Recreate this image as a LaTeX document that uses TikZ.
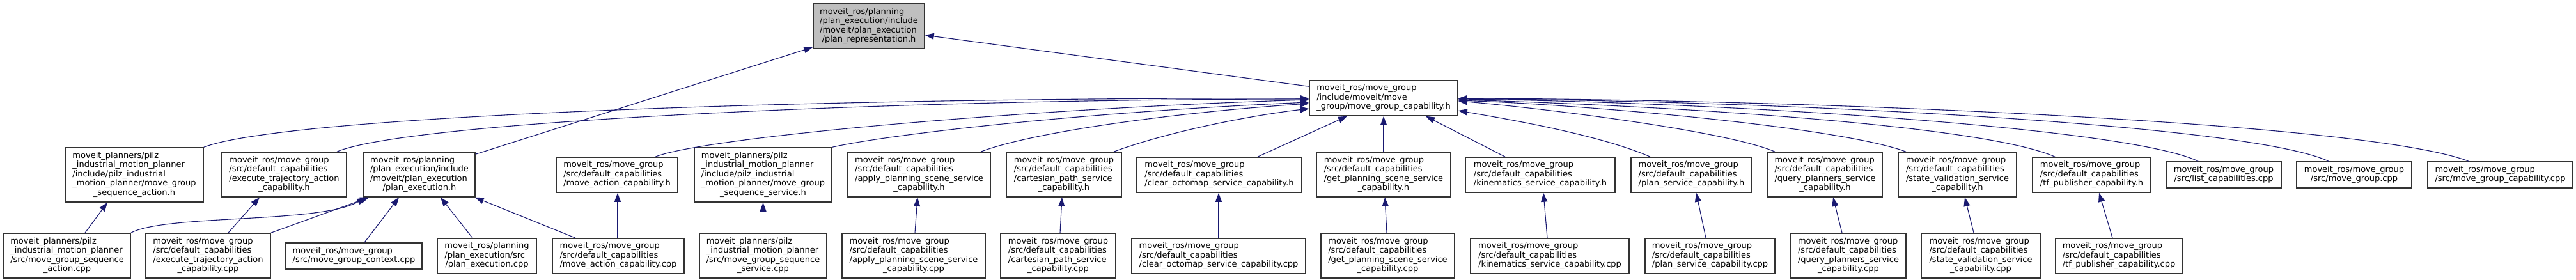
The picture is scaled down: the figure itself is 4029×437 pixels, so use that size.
\documentclass[tikz,border=0pt]{standalone}
\usepackage{fontspec}
\setmainfont{DejaVu Sans}
\usetikzlibrary{arrows.meta}
\definecolor{edgeblue}{HTML}{191970}
\definecolor{boxline}{HTML}{333333}
\definecolor{topfill}{HTML}{BFBFBF}
\newcommand\dlab[2]{\begin{tabular}{@{}l@{}}#1\\\multicolumn{1}{@{}c@{}}{#2}\end{tabular}}
\begin{document}
\begin{tikzpicture}[x=1pt,y=-1pt,
  box/.style={draw=boxline,line width=1.5pt,fill=white,rectangle,inner sep=0pt,align=center,
    font=\fontsize{13}{14.5}\selectfont},
  dep/.style={draw=edgeblue,line width=1.1pt,-{Triangle[length=14pt,width=10pt]}}]
\useasboundingbox (0,0) rectangle (4029,437);
% top
\node[box,fill=topfill,minimum width=174pt,minimum height=70pt] (T) at (1359,41)
 {\dlab{moveit\_ros/planning\\/plan\_execution/include\\/moveit/plan\_execution}{/plan\_representation.h}};
\node[box,minimum width=232pt,minimum height=55pt] (M) at (2164,153.5)
 {\dlab{moveit\_ros/move\_group\\/include/moveit/move}{\_group/move\_group\_capability.h}};
% middle row
\node[box,minimum width=216pt,minimum height=85pt] (A1) at (210,273.5)
 {\dlab{moveit\_planners/pilz\\\_industrial\_motion\_planner\\/include/pilz\_industrial\\\_motion\_planner/move\_group}{\_sequence\_action.h}};
\node[box,minimum width=195pt,minimum height=70pt] (A2) at (444.5,273)
 {\dlab{moveit\_ros/move\_group\\/src/default\_capabilities\\/execute\_trajectory\_action}{\_capability.h}};
\node[box,minimum width=174pt,minimum height=70pt] (A3) at (656,273)
 {\dlab{moveit\_ros/planning\\/plan\_execution/include\\/moveit/plan\_execution}{/plan\_execution.h}};
\node[box,minimum width=190pt,minimum height=55pt] (A4) at (965,273.5)
 {\dlab{moveit\_ros/move\_group\\/src/default\_capabilities}{/move\_action\_capability.h}};
\node[box,minimum width=215pt,minimum height=85pt] (A5) at (1193.5,273.5)
 {\dlab{moveit\_planners/pilz\\\_industrial\_motion\_planner\\/include/pilz\_industrial\\\_motion\_planner/move\_group}{\_sequence\_service.h}};
\node[box,minimum width=223pt,minimum height=70pt] (A6) at (1437.5,273)
 {\dlab{moveit\_ros/move\_group\\/src/default\_capabilities\\/apply\_planning\_scene\_service}{\_capability.h}};
\node[box,minimum width=180pt,minimum height=70pt] (A7) at (1664,273)
 {\dlab{moveit\_ros/move\_group\\/src/default\_capabilities\\/cartesian\_path\_service}{\_capability.h}};
\node[box,minimum width=258pt,minimum height=55pt] (A8) at (1907,273.5)
 {\dlab{moveit\_ros/move\_group\\/src/default\_capabilities}{/clear\_octomap\_service\_capability.h}};
\node[box,minimum width=210pt,minimum height=70pt] (A9) at (2164,273)
 {\dlab{moveit\_ros/move\_group\\/src/default\_capabilities\\/get\_planning\_scene\_service}{\_capability.h}};
\node[box,minimum width=234pt,minimum height=55pt] (A10) at (2409,273.5)
 {\dlab{moveit\_ros/move\_group\\/src/default\_capabilities}{/kinematics\_service\_capability.h}};
\node[box,minimum width=189pt,minimum height=55pt] (A11) at (2645.5,273.5)
 {\dlab{moveit\_ros/move\_group\\/src/default\_capabilities}{/plan\_service\_capability.h}};
\node[box,minimum width=179pt,minimum height=70pt] (A12) at (2854.5,273)
 {\dlab{moveit\_ros/move\_group\\/src/default\_capabilities\\/query\_planners\_service}{\_capability.h}};
\node[box,minimum width=185pt,minimum height=70pt] (A13) at (3061.5,273)
 {\dlab{moveit\_ros/move\_group\\/src/default\_capabilities\\/state\_validation\_service}{\_capability.h}};
\node[box,minimum width=185pt,minimum height=55pt] (A14) at (3271.5,273.5)
 {\dlab{moveit\_ros/move\_group\\/src/default\_capabilities}{/tf\_publisher\_capability.h}};
\node[box,minimum width=180pt,minimum height=41pt] (A15) at (3478,273.5)
 {\dlab{moveit\_ros/move\_group}{/src/list\_capabilities.cpp}};
\node[box,minimum width=180pt,minimum height=41pt] (A16) at (3682,273.5)
 {\dlab{moveit\_ros/move\_group}{/src/move\_group.cpp}};
\node[box,minimum width=227pt,minimum height=41pt] (A17) at (3910.5,273.5)
 {\dlab{moveit\_ros/move\_group}{/src/move\_group\_capability.cpp}};
% bottom row
\node[box,minimum width=198pt,minimum height=70pt] (B1) at (105,400)
 {\dlab{moveit\_planners/pilz\\\_industrial\_motion\_planner\\/src/move\_group\_sequence}{\_action.cpp}};
\node[box,minimum width=195pt,minimum height=70pt] (B2) at (325.5,400)
 {\dlab{moveit\_ros/move\_group\\/src/default\_capabilities\\/execute\_trajectory\_action}{\_capability.cpp}};
\node[box,minimum width=213pt,minimum height=41pt] (B3) at (553.5,400.5)
 {\dlab{moveit\_ros/move\_group}{/src/move\_group\_context.cpp}};
\node[box,minimum width=155pt,minimum height=55pt] (B4) at (761.5,400.5)
 {\dlab{moveit\_ros/planning\\/plan\_execution/src}{/plan\_execution.cpp}};
\node[box,minimum width=206pt,minimum height=55pt] (B5) at (967,400.5)
 {\dlab{moveit\_ros/move\_group\\/src/default\_capabilities}{/move\_action\_capability.cpp}};
\node[box,minimum width=199pt,minimum height=70pt] (B6) at (1193.5,400)
 {\dlab{moveit\_planners/pilz\\\_industrial\_motion\_planner\\/src/move\_group\_sequence}{\_service.cpp}};
\node[box,minimum width=224pt,minimum height=70pt] (B7) at (1429,400)
 {\dlab{moveit\_ros/move\_group\\/src/default\_capabilities\\/apply\_planning\_scene\_service}{\_capability.cpp}};
\node[box,minimum width=180pt,minimum height=70pt] (B8) at (1655,400)
 {\dlab{moveit\_ros/move\_group\\/src/default\_capabilities\\/cartesian\_path\_service}{\_capability.cpp}};
\node[box,minimum width=272pt,minimum height=55pt] (B9) at (1906,400.5)
 {\dlab{moveit\_ros/move\_group\\/src/default\_capabilities}{/clear\_octomap\_service\_capability.cpp}};
\node[box,minimum width=209pt,minimum height=70pt] (B10) at (2170.5,400)
 {\dlab{moveit\_ros/move\_group\\/src/default\_capabilities\\/get\_planning\_scene\_service}{\_capability.cpp}};
\node[box,minimum width=248pt,minimum height=55pt] (B11) at (2424,400.5)
 {\dlab{moveit\_ros/move\_group\\/src/default\_capabilities}{/kinematics\_service\_capability.cpp}};
\node[box,minimum width=203pt,minimum height=55pt] (B12) at (2674.5,400.5)
 {\dlab{moveit\_ros/move\_group\\/src/default\_capabilities}{/plan\_service\_capability.cpp}};
\node[box,minimum width=180pt,minimum height=70pt] (B13) at (2891,400)
 {\dlab{moveit\_ros/move\_group\\/src/default\_capabilities\\/query\_planners\_service}{\_capability.cpp}};
\node[box,minimum width=186pt,minimum height=70pt] (B14) at (3098,400)
 {\dlab{moveit\_ros/move\_group\\/src/default\_capabilities\\/state\_validation\_service}{\_capability.cpp}};
\node[box,minimum width=198pt,minimum height=55pt] (B15) at (3314,400.5)
 {\dlab{moveit\_ros/move\_group\\/src/default\_capabilities}{/tf\_publisher\_capability.cpp}};
% edges to top node
\draw[dep] ([yshift=-10pt]M.north west) -- ([yshift=-14pt]T.east);
\draw[dep] ([yshift=-4pt]A3.north east) -- ([yshift=3pt]T.south west);
% edges to M, left side
\draw[dep] (A1.north east) .. controls (450,180) and (1300,152) .. ([yshift=-0.5pt]M.west);
\draw[dep] ([xshift=82.5pt]A2.north) .. controls (640,190) and (1400,155) .. ([yshift=-1.5pt]M.west);
\draw[dep] ([xshift=60pt]A4.north) .. controls (1100,215) and (1600,170) .. ([yshift=-2.5pt]M.west);
\draw[dep] (A5.north east) .. controls (1390,210) and (1700,175) .. ([yshift=-6.5pt]M.west);
\draw[dep] ([xshift=96.5pt]A6.north) .. controls (1620,205) and (1850,175) .. ([yshift=-8.5pt]M.west);
\draw[dep] ([xshift=78pt]A7.north) .. controls (1830,205) and (1960,180) .. ([yshift=-16.5pt]M.west);
% bottom of M
\draw[dep] ([xshift=60pt]A8.north) -- ([xshift=-57pt]M.south);
\draw[dep] (A9.north) -- (M.south);
\draw[dep] ([xshift=-55pt]A10.north) -- ([xshift=66pt]M.south);
% right side
\draw[dep] ([xshift=-64.5pt]A11.north) .. controls (2500,210) and (2350,185) .. ([yshift=-19.5pt]M.east);
\draw[dep] ([xshift=-78.5pt]A12.north) .. controls (2700,205) and (2420,170) .. ([yshift=-4.5pt]M.east);
\draw[dep] ([xshift=-80.5pt]A13.north) .. controls (2880,200) and (2500,165) .. ([yshift=-3.5pt]M.east);
\draw[dep] ([xshift=-57.5pt]A14.north) .. controls (3100,195) and (2600,165) .. ([yshift=-2.5pt]M.east);
\draw[dep] ([xshift=-40pt]A15.north) .. controls (3330,200) and (2700,160) .. ([yshift=-1.5pt]M.east);
\draw[dep] ([xshift=-40pt]A16.north) .. controls (3520,195) and (2800,158) .. ([yshift=-1pt]M.east);
\draw[dep] ([xshift=-49.5pt]A17.north) .. controls (3700,190) and (2800,155) .. ([yshift=-0.5pt]M.east);
% bottom row edges
\draw[dep] ([xshift=28pt]B1.north) -- ([xshift=-42pt]A1.south);
\draw[dep] (B1.north east) .. controls (260,335) and (500,350) .. ([xshift=4pt]A3.south west);
\draw[dep] ([xshift=31.5pt]B2.north) -- ([xshift=-38.5pt]A2.south);
\draw[dep] (B2.north east) -- ([xshift=9pt]A3.south west);
\draw[dep] ([xshift=16.5pt]B3.north) -- ([xshift=-32pt]A3.south);
\draw[dep] ([xshift=-22.5pt]B4.north) -- ([xshift=33pt]A3.south);
\draw[dep] ([xshift=-67pt]B5.north) -- ([xshift=-1pt]A3.south east);
\draw[dep] ([xshift=-1pt]B5.north) -- ([xshift=1pt]A4.south);
\draw[dep] (B6.north) -- (A5.south);
\draw[dep] ([xshift=2pt]B7.north) -- ([xshift=-2.5pt]A6.south);
\draw[dep] ([xshift=3pt]B8.north) -- ([xshift=-3pt]A7.south);
\draw[dep] (B9.north) -- ([xshift=-1pt]A8.south);
\draw[dep] ([xshift=-1.5pt]B10.north) -- ([xshift=2pt]A9.south);
\draw[dep] ([xshift=-4pt]B11.north) -- ([xshift=5pt]A10.south);
\draw[dep] ([xshift=-6.5pt]B12.north) -- ([xshift=7.5pt]A11.south);
\draw[dep] ([xshift=-10pt]B13.north) -- ([xshift=12.5pt]A12.south);
\draw[dep] ([xshift=-11pt]B14.north) -- ([xshift=11.5pt]A13.south);
\draw[dep] ([xshift=-10pt]B15.north) -- ([xshift=11.5pt]A14.south);
\end{tikzpicture}
\end{document}
